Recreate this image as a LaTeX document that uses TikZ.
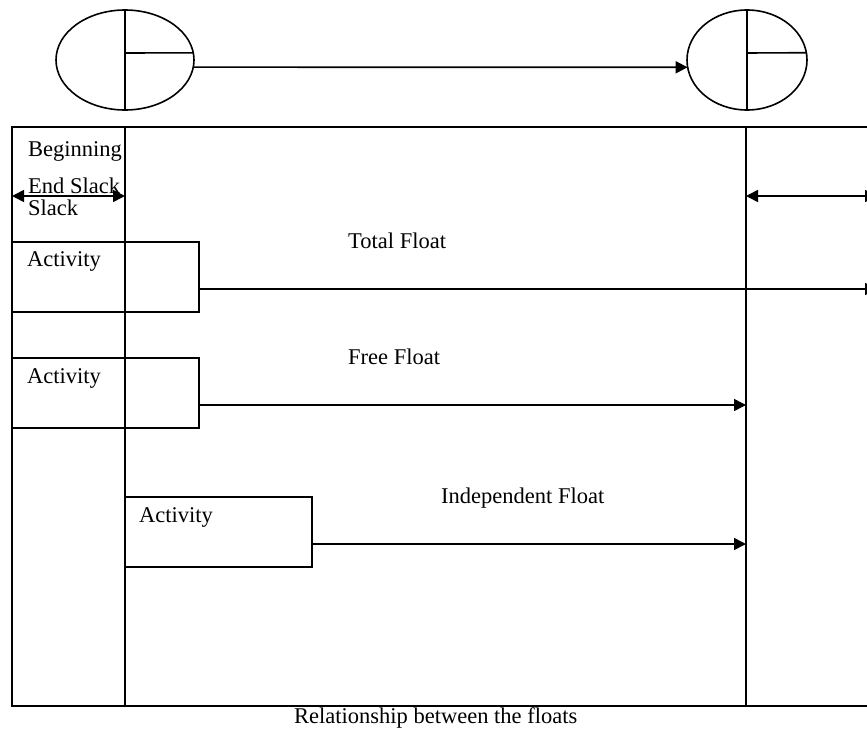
\documentclass[tikz,border=0pt]{standalone}
\usepackage{fontspec}
\setmainfont{Liberation Serif}
\usetikzlibrary{arrows.meta,shapes.geometric,calc}
\begin{document}
\begin{tikzpicture}[x=1pt,y=-1pt,
  ln/.style={line width=1.6pt, draw=black},
  tip/.style={-{Triangle[length=12pt,width=12pt]}},
  dtip/.style={{Triangle[length=12pt,width=12pt]}-{Triangle[length=12pt,width=12pt]}},
  evt/.style={ellipse, draw, line width=1.6pt, inner sep=0pt, outer sep=0pt, minimum height=100pt},
  actbox/.style={rectangle, draw, line width=1.6pt, minimum width=187pt, minimum height=70pt, inner sep=0pt, outer sep=0pt, anchor=north west},
  txt/.style={font=\fontsize{22.5}{26}\selectfont, inner sep=0pt, anchor=base west}]
\useasboundingbox (0,0) rectangle (867,728);
\clip (0,0) rectangle (867,728);
% events
\node[evt, minimum width=138pt] (e1) at (125,60) {};
\node[evt, minimum width=120pt] (e2) at (747,60) {};
\draw[ln] (e1.north) -- (e1.south);
\draw[ln] ($(e1.center)+(0,-7)$) -- (e1.6);
\draw[ln] (e2.north) -- (e2.south);
\draw[ln] ($(e2.center)+(0,-7)$) -- (e2.7);
\draw[ln,tip] (e1.-6) -- (e2.187);
% frame
\coordinate (tl) at (12,127);
\coordinate (bl) at (12,706);
\coordinate (tr) at (880,127);
\coordinate (br) at (880,706);
\draw[ln] (tr) -- (tl) -- (bl) -- (br);
\coordinate (v1t) at (125,127);
\coordinate (v1b) at (125,706);
\coordinate (v2t) at (746,127);
\coordinate (v2b) at (746,706);
\draw[ln] (v1t) -- (v1b);
\draw[ln] (v2t) -- (v2b);
% slack arrows
\coordinate (s1) at (12,196);
\coordinate (s2) at (125,196);
\coordinate (s3) at (746,196);
\coordinate (s4) at (877,196);
\draw[ln,dtip] (s1) -- (s2);
\draw[ln,dtip] (s3) -- (s4);
\node[txt] (tb) at (28,156) {Beginning};
\node[txt] (te) at (28,193) {End Slack};
\node[txt] (ts) at (28,215) {Slack};
% activities
\node[actbox] (a1) at (12,242) {};
\node[actbox] (a2) at (12,358) {};
\node[actbox] (a3) at (125,497) {};
\node[txt] (ta1) at (27,266) {Activity};
\node[txt] (ta2) at (27,383) {Activity};
\node[txt] (ta3) at (139,522) {Activity};
\coordinate (a1o) at ($(a1.south east)+(0,-23)$);
\coordinate (a2o) at ($(a2.south east)+(0,-23)$);
\coordinate (a3o) at ($(a3.south east)+(0,-23)$);
\draw[ln,tip] (a1o) -- (a1o -| s4);
\draw[ln,tip] (a2o) -- (a2o -| v2t);
\draw[ln,tip] (a3o) -- (a3o -| v2t);
\node[txt] (tf1) at (348,248) {Total Float};
\node[txt] (tf2) at (348,364) {Free Float};
\node[txt] (tf3) at (441,503) {Independent Float};
\node[txt] (cap) at (294,723) {Relationship between the floats};
\end{tikzpicture}
\end{document}
